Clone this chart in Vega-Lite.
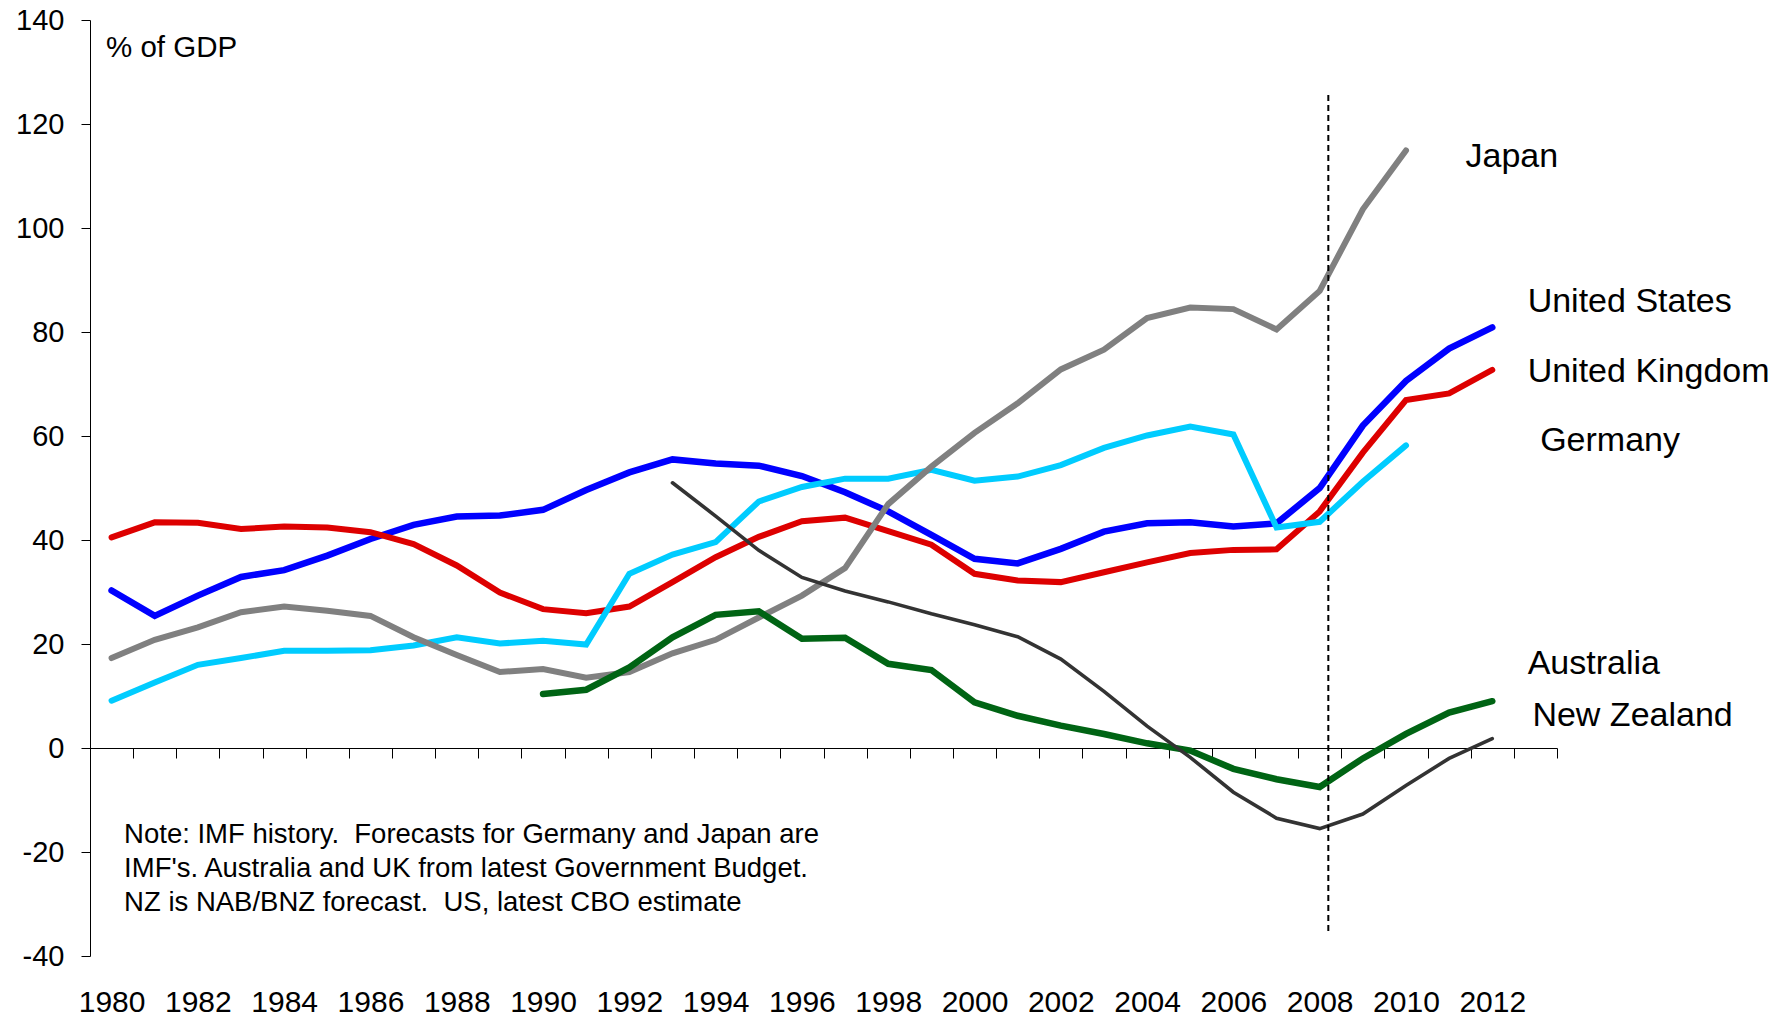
{
  "$schema": "https://vega.github.io/schema/vega-lite/v6.json",
  "width": 1467,
  "height": 936,
  "autosize": {"type": "none"},
  "padding": {"left": 90, "top": 20, "right": 232, "bottom": 62},
  "background": "white",
  "config": {
    "view": {"stroke": null},
    "font": "Liberation Sans",
    "axis": {"grid": false}
  },
  "datasets": {
    "series": [
      {"country": "United States", "year": 1980, "value": 30.3},
      {"country": "United States", "year": 1981, "value": 25.4},
      {"country": "United States", "year": 1982, "value": 29.3},
      {"country": "United States", "year": 1983, "value": 32.9},
      {"country": "United States", "year": 1984, "value": 34.2},
      {"country": "United States", "year": 1985, "value": 37.0},
      {"country": "United States", "year": 1986, "value": 40.2},
      {"country": "United States", "year": 1987, "value": 42.9},
      {"country": "United States", "year": 1988, "value": 44.5},
      {"country": "United States", "year": 1989, "value": 44.7},
      {"country": "United States", "year": 1990, "value": 45.8},
      {"country": "United States", "year": 1991, "value": 49.6},
      {"country": "United States", "year": 1992, "value": 53.0},
      {"country": "United States", "year": 1993, "value": 55.5},
      {"country": "United States", "year": 1994, "value": 54.7},
      {"country": "United States", "year": 1995, "value": 54.3},
      {"country": "United States", "year": 1996, "value": 52.3},
      {"country": "United States", "year": 1997, "value": 49.2},
      {"country": "United States", "year": 1998, "value": 45.5},
      {"country": "United States", "year": 1999, "value": 41.0},
      {"country": "United States", "year": 2000, "value": 36.4},
      {"country": "United States", "year": 2001, "value": 35.5},
      {"country": "United States", "year": 2002, "value": 38.3},
      {"country": "United States", "year": 2003, "value": 41.6},
      {"country": "United States", "year": 2004, "value": 43.2},
      {"country": "United States", "year": 2005, "value": 43.4},
      {"country": "United States", "year": 2006, "value": 42.6},
      {"country": "United States", "year": 2007, "value": 43.2},
      {"country": "United States", "year": 2008, "value": 50.0},
      {"country": "United States", "year": 2009, "value": 62.0},
      {"country": "United States", "year": 2010, "value": 70.6},
      {"country": "United States", "year": 2011, "value": 76.8},
      {"country": "United States", "year": 2012, "value": 80.9},
      {"country": "United Kingdom", "year": 1980, "value": 40.5},
      {"country": "United Kingdom", "year": 1981, "value": 43.4},
      {"country": "United Kingdom", "year": 1982, "value": 43.3},
      {"country": "United Kingdom", "year": 1983, "value": 42.1},
      {"country": "United Kingdom", "year": 1984, "value": 42.6},
      {"country": "United Kingdom", "year": 1985, "value": 42.4},
      {"country": "United Kingdom", "year": 1986, "value": 41.5},
      {"country": "United Kingdom", "year": 1987, "value": 39.2},
      {"country": "United Kingdom", "year": 1988, "value": 35.1},
      {"country": "United Kingdom", "year": 1989, "value": 29.9},
      {"country": "United Kingdom", "year": 1990, "value": 26.7},
      {"country": "United Kingdom", "year": 1991, "value": 25.9},
      {"country": "United Kingdom", "year": 1992, "value": 27.2},
      {"country": "United Kingdom", "year": 1993, "value": 31.9},
      {"country": "United Kingdom", "year": 1994, "value": 36.7},
      {"country": "United Kingdom", "year": 1995, "value": 40.6},
      {"country": "United Kingdom", "year": 1996, "value": 43.6},
      {"country": "United Kingdom", "year": 1997, "value": 44.3},
      {"country": "United Kingdom", "year": 1998, "value": 41.7},
      {"country": "United Kingdom", "year": 1999, "value": 39.1},
      {"country": "United Kingdom", "year": 2000, "value": 33.5},
      {"country": "United Kingdom", "year": 2001, "value": 32.2},
      {"country": "United Kingdom", "year": 2002, "value": 31.9},
      {"country": "United Kingdom", "year": 2003, "value": 33.8},
      {"country": "United Kingdom", "year": 2004, "value": 35.7},
      {"country": "United Kingdom", "year": 2005, "value": 37.5},
      {"country": "United Kingdom", "year": 2006, "value": 38.1},
      {"country": "United Kingdom", "year": 2007, "value": 38.2},
      {"country": "United Kingdom", "year": 2008, "value": 45.5},
      {"country": "United Kingdom", "year": 2009, "value": 56.8},
      {"country": "United Kingdom", "year": 2010, "value": 66.9},
      {"country": "United Kingdom", "year": 2011, "value": 68.2},
      {"country": "United Kingdom", "year": 2012, "value": 72.7},
      {"country": "Germany", "year": 1980, "value": 9.1},
      {"country": "Germany", "year": 1981, "value": 12.6},
      {"country": "Germany", "year": 1982, "value": 16.0},
      {"country": "Germany", "year": 1983, "value": 17.3},
      {"country": "Germany", "year": 1984, "value": 18.7},
      {"country": "Germany", "year": 1985, "value": 18.7},
      {"country": "Germany", "year": 1986, "value": 18.8},
      {"country": "Germany", "year": 1987, "value": 19.7},
      {"country": "Germany", "year": 1988, "value": 21.3},
      {"country": "Germany", "year": 1989, "value": 20.1},
      {"country": "Germany", "year": 1990, "value": 20.6},
      {"country": "Germany", "year": 1991, "value": 19.9},
      {"country": "Germany", "year": 1992, "value": 33.5},
      {"country": "Germany", "year": 1993, "value": 37.2},
      {"country": "Germany", "year": 1994, "value": 39.6},
      {"country": "Germany", "year": 1995, "value": 47.4},
      {"country": "Germany", "year": 1996, "value": 50.2},
      {"country": "Germany", "year": 1997, "value": 51.8},
      {"country": "Germany", "year": 1998, "value": 51.8},
      {"country": "Germany", "year": 1999, "value": 53.5},
      {"country": "Germany", "year": 2000, "value": 51.4},
      {"country": "Germany", "year": 2001, "value": 52.2},
      {"country": "Germany", "year": 2002, "value": 54.4},
      {"country": "Germany", "year": 2003, "value": 57.7},
      {"country": "Germany", "year": 2004, "value": 60.1},
      {"country": "Germany", "year": 2005, "value": 61.8},
      {"country": "Germany", "year": 2006, "value": 60.3},
      {"country": "Germany", "year": 2007, "value": 42.4},
      {"country": "Germany", "year": 2008, "value": 43.5},
      {"country": "Germany", "year": 2009, "value": 51.2},
      {"country": "Germany", "year": 2010, "value": 58.2},
      {"country": "Japan", "year": 1980, "value": 17.3},
      {"country": "Japan", "year": 1981, "value": 20.8},
      {"country": "Japan", "year": 1982, "value": 23.2},
      {"country": "Japan", "year": 1983, "value": 26.1},
      {"country": "Japan", "year": 1984, "value": 27.2},
      {"country": "Japan", "year": 1985, "value": 26.4},
      {"country": "Japan", "year": 1986, "value": 25.4},
      {"country": "Japan", "year": 1987, "value": 21.3},
      {"country": "Japan", "year": 1988, "value": 17.9},
      {"country": "Japan", "year": 1989, "value": 14.6},
      {"country": "Japan", "year": 1990, "value": 15.2},
      {"country": "Japan", "year": 1991, "value": 13.5},
      {"country": "Japan", "year": 1992, "value": 14.6},
      {"country": "Japan", "year": 1993, "value": 18.2},
      {"country": "Japan", "year": 1994, "value": 20.8},
      {"country": "Japan", "year": 1995, "value": 25.1},
      {"country": "Japan", "year": 1996, "value": 29.3},
      {"country": "Japan", "year": 1997, "value": 34.6},
      {"country": "Japan", "year": 1998, "value": 46.9},
      {"country": "Japan", "year": 1999, "value": 54.1},
      {"country": "Japan", "year": 2000, "value": 60.6},
      {"country": "Japan", "year": 2001, "value": 66.3},
      {"country": "Japan", "year": 2002, "value": 72.8},
      {"country": "Japan", "year": 2003, "value": 76.6},
      {"country": "Japan", "year": 2004, "value": 82.7},
      {"country": "Japan", "year": 2005, "value": 84.7},
      {"country": "Japan", "year": 2006, "value": 84.4},
      {"country": "Japan", "year": 2007, "value": 80.5},
      {"country": "Japan", "year": 2008, "value": 87.9},
      {"country": "Japan", "year": 2009, "value": 103.6},
      {"country": "Japan", "year": 2010, "value": 114.9},
      {"country": "Australia", "year": 1990, "value": 10.4},
      {"country": "Australia", "year": 1991, "value": 11.2},
      {"country": "Australia", "year": 1992, "value": 15.5},
      {"country": "Australia", "year": 1993, "value": 21.3},
      {"country": "Australia", "year": 1994, "value": 25.6},
      {"country": "Australia", "year": 1995, "value": 26.3},
      {"country": "Australia", "year": 1996, "value": 21.0},
      {"country": "Australia", "year": 1997, "value": 21.2},
      {"country": "Australia", "year": 1998, "value": 16.2},
      {"country": "Australia", "year": 1999, "value": 15.0},
      {"country": "Australia", "year": 2000, "value": 8.8},
      {"country": "Australia", "year": 2001, "value": 6.2},
      {"country": "Australia", "year": 2002, "value": 4.3},
      {"country": "Australia", "year": 2003, "value": 2.7},
      {"country": "Australia", "year": 2004, "value": 0.9},
      {"country": "Australia", "year": 2005, "value": -0.5},
      {"country": "Australia", "year": 2006, "value": -4.0},
      {"country": "Australia", "year": 2007, "value": -6.0},
      {"country": "Australia", "year": 2008, "value": -7.5},
      {"country": "Australia", "year": 2009, "value": -2.0},
      {"country": "Australia", "year": 2010, "value": 2.7},
      {"country": "Australia", "year": 2011, "value": 6.8},
      {"country": "Australia", "year": 2012, "value": 9.0},
      {"country": "New Zealand", "year": 1993, "value": 51.0},
      {"country": "New Zealand", "year": 1994, "value": 44.6},
      {"country": "New Zealand", "year": 1995, "value": 38.0},
      {"country": "New Zealand", "year": 1996, "value": 32.8},
      {"country": "New Zealand", "year": 1997, "value": 30.2},
      {"country": "New Zealand", "year": 1998, "value": 28.1},
      {"country": "New Zealand", "year": 1999, "value": 25.8},
      {"country": "New Zealand", "year": 2000, "value": 23.7},
      {"country": "New Zealand", "year": 2001, "value": 21.4},
      {"country": "New Zealand", "year": 2002, "value": 17.1},
      {"country": "New Zealand", "year": 2003, "value": 10.9},
      {"country": "New Zealand", "year": 2004, "value": 4.2},
      {"country": "New Zealand", "year": 2005, "value": -1.8},
      {"country": "New Zealand", "year": 2006, "value": -8.5},
      {"country": "New Zealand", "year": 2007, "value": -13.5},
      {"country": "New Zealand", "year": 2008, "value": -15.5},
      {"country": "New Zealand", "year": 2009, "value": -12.7},
      {"country": "New Zealand", "year": 2010, "value": -7.2},
      {"country": "New Zealand", "year": 2011, "value": -2.0},
      {"country": "New Zealand", "year": 2012, "value": 1.8}
    ],
    "marker": [{"year": 2008.2, "top": 125.6, "bottom": -35.6}],
    "seriesLabels": [
      {"label": "Japan", "x": 2011.38, "y": 111.7},
      {"label": "United States", "x": 2012.82, "y": 83.9},
      {"label": "United Kingdom", "x": 2012.82, "y": 70.4},
      {"label": "Germany", "x": 2013.11, "y": 57.2},
      {"label": "Australia", "x": 2012.82, "y": 14.2},
      {"label": "New Zealand", "x": 2012.93, "y": 4.2}
    ],
    "unitLabel": [{"label": "% of GDP", "x": 1979.87, "y": 132.8}],
    "note": [
      {"label": "Note: IMF history.\u00a0 Forecasts for Germany and Japan are", "x": 1980.29, "y": -18.3},
      {"label": "IMF's. Australia and UK from latest Government Budget.", "x": 1980.29, "y": -24.75},
      {"label": "NZ is NAB/BNZ forecast.\u00a0 US, latest CBO estimate", "x": 1980.29, "y": -31.3}
    ]
  },
  "resolve": {"axis": {"x": "independent"}},
  "layer": [
    {
      "data": {"name": "series"},
      "mark": {"type": "line", "strokeCap": "round"},
      "encoding": {
        "x": {
          "field": "year", "type": "quantitative",
          "scale": {"domain": [1979.5, 2013.5], "nice": false, "zero": false},
          "axis": {
            "orient": "bottom", "title": null, "values": [1980, 1982, 1984, 1986, 1988, 1990, 1992, 1994, 1996, 1998, 2000, 2002, 2004, 2006, 2008, 2010, 2012],
            "format": "d", "domain": false, "ticks": false, "tickSize": 0, "labelPadding": 55, "labelBaseline": "alphabetic",
            "labelFontSize": 30, "labelColor": "black", "labelFlush": false, "labelOverlap": false, "grid": false
          }
        },
        "y": {
          "field": "value", "type": "quantitative",
          "scale": {"domain": [-40, 140], "nice": false, "zero": false},
          "axis": {
            "title": null, "values": [-40, -20, 0, 20, 40, 60, 80, 100, 120, 140], "labelExpr": "datum.value + ''",
            "tickSize": 9, "tickColor": "black", "domainColor": "black", "labelFontSize": 29,
            "labelPadding": 17, "labelColor": "black", "grid": false
          }
        },
        "color": {
          "field": "country", "type": "nominal", "legend": null,
          "scale": {"domain": ["United States", "United Kingdom", "Germany", "Japan", "Australia", "New Zealand"],
                    "range": ["#0000ff", "#dd0000", "#00ccff", "#808080", "#006414", "#333333"]}
        },
        "strokeWidth": {
          "field": "country", "type": "ordinal", "legend": null,
          "scale": {"type": "ordinal", "domain": ["United States", "United Kingdom", "Germany", "Japan", "Australia", "New Zealand"],
                    "range": [6.5, 6, 6, 6, 6.5, 3.6]}
        }
      }
    },
    {
      "data": {"name": "marker"},
      "mark": {"type": "rule", "strokeDash": [6, 4], "strokeWidth": 2, "color": "black"},
      "encoding": {
        "x": {
          "field": "year", "type": "quantitative",
          "axis": {
            "orient": "bottom", "offset": -208, "title": null, "labels": false,
            "values": [1979.5, 1980.5, 1981.5, 1982.5, 1983.5, 1984.5, 1985.5, 1986.5, 1987.5, 1988.5, 1989.5, 1990.5, 1991.5, 1992.5, 1993.5, 1994.5, 1995.5, 1996.5, 1997.5, 1998.5, 1999.5, 2000.5, 2001.5, 2002.5, 2003.5, 2004.5, 2005.5, 2006.5, 2007.5, 2008.5, 2009.5, 2010.5, 2011.5, 2012.5, 2013.5],
            "ticks": true, "tickSize": 10, "tickColor": "black", "domain": true, "domainColor": "black", "grid": false
          }
        },
        "y": {
          "field": "top", "type": "quantitative",
          "axis": {
            "title": null, "values": [-40, -20, 0, 20, 40, 60, 80, 100, 120, 140], "labelExpr": "datum.value + ''",
            "tickSize": 9, "tickColor": "black", "domainColor": "black", "labelFontSize": 29,
            "labelPadding": 17, "labelColor": "black", "grid": false
          }
        },
        "y2": {"field": "bottom"}
      }
    },
    {
      "data": {"name": "seriesLabels"},
      "mark": {"type": "text", "align": "left", "baseline": "alphabetic", "fontSize": 34, "color": "black"},
      "encoding": {
        "x": {"field": "x", "type": "quantitative", "axis": null},
        "y": {
          "field": "y", "type": "quantitative",
          "axis": {
            "title": null, "values": [-40, -20, 0, 20, 40, 60, 80, 100, 120, 140], "labelExpr": "datum.value + ''",
            "tickSize": 9, "tickColor": "black", "domainColor": "black", "labelFontSize": 29,
            "labelPadding": 17, "labelColor": "black", "grid": false
          }
        },
        "text": {"field": "label"}
      }
    },
    {
      "data": {"name": "unitLabel"},
      "mark": {"type": "text", "align": "left", "baseline": "alphabetic", "fontSize": 29.5, "color": "black"},
      "encoding": {
        "x": {"field": "x", "type": "quantitative", "axis": null},
        "y": {
          "field": "y", "type": "quantitative",
          "axis": {
            "title": null, "values": [-40, -20, 0, 20, 40, 60, 80, 100, 120, 140], "labelExpr": "datum.value + ''",
            "tickSize": 9, "tickColor": "black", "domainColor": "black", "labelFontSize": 29,
            "labelPadding": 17, "labelColor": "black", "grid": false
          }
        },
        "text": {"field": "label"}
      }
    },
    {
      "data": {"name": "note"},
      "mark": {"type": "text", "align": "left", "baseline": "alphabetic", "fontSize": 27.5, "color": "black"},
      "encoding": {
        "x": {"field": "x", "type": "quantitative", "axis": null},
        "y": {
          "field": "y", "type": "quantitative",
          "axis": {
            "title": null, "values": [-40, -20, 0, 20, 40, 60, 80, 100, 120, 140], "labelExpr": "datum.value + ''",
            "tickSize": 9, "tickColor": "black", "domainColor": "black", "labelFontSize": 29,
            "labelPadding": 17, "labelColor": "black", "grid": false
          }
        },
        "text": {"field": "label"}
      }
    }
  ]
}
